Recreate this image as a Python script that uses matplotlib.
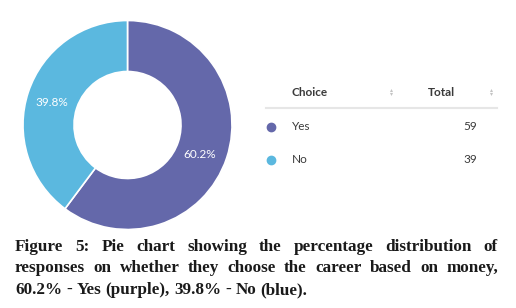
import matplotlib.pyplot as plt
from matplotlib.lines import Line2D

# data
choices = ["Yes", "No"]
totals = [59, 39]
pct_labels = ["60.2%", "39.8%"]
colors = ["#6468AA", "#5BB8DF"]
caption_lines = [
    "Figure 5: Pie chart showing the percentage distribution of",
    "responses on whether they choose the career based on money,",
    "60.2% - Yes (purple), 39.8% - No (blue).",
]

W, H = 516, 308
fig = plt.figure(figsize=(W / 100, H / 100), dpi=100)
fig.patch.set_facecolor("white")


def fx(x):
    return x / W


def fy(y):
    return 1 - y / H


# donut
r_out = 104.5
cx, cy = 127.5, 125
ax = fig.add_axes([fx(cx - r_out), fy(cy + r_out), 2 * r_out / W, 2 * r_out / H])
ax.pie(totals, colors=colors, startangle=90, counterclock=False, radius=1.0,
       wedgeprops=dict(width=1 - 53.5 / r_out, edgecolor="white", linewidth=1.2))
ax.set_aspect("equal")
ax.set_xlim(-1, 1)
ax.set_ylim(-1, 1)

# percentage labels
lab_pos = [(200, 154), (52, 103)]
for (x, y), t in zip(lab_pos, pct_labels):
    fig.text(fx(x), fy(y), t, ha="center", va="center", color="white",
             fontsize=8.5, family="Lato")

# table
tc = "#3a3a3a"
fig.text(fx(292), fy(92), "Choice", ha="left", va="center", fontsize=8.5,
         family="Lato", weight="bold", color=tc)
fig.text(fx(428), fy(92), "Total", ha="left", va="center", fontsize=8.5,
         family="Lato", weight="bold", color=tc)
for x in (391, 491):
    fig.add_artist(Line2D([fx(x)], [fy(89.5)], marker="^", ms=2.2, color="#c4c4c4",
                          lw=0, markeredgewidth=0))
    fig.add_artist(Line2D([fx(x)], [fy(94)], marker="v", ms=2.2, color="#c4c4c4",
                          lw=0, markeredgewidth=0))
fig.add_artist(Line2D([fx(266), fx(497)], [fy(108), fy(108)], color="#e6e6e6", lw=1.5))
rows_y = [127, 160]
for name, tot, col, y in zip(choices, totals, colors, rows_y):
    fig.add_artist(Line2D([fx(271)], [fy(y)], marker="o", ms=6, color=col, lw=0))
    fig.text(fx(292), fy(y), name, ha="left", va="center", fontsize=8.5,
             family="Lato", color=tc)
    fig.text(fx(477), fy(y), str(tot), ha="right", va="center", fontsize=8.5,
             family="Lato", color=tc)

# caption, justified for the first two lines
fig.canvas.draw()
renderer = fig.canvas.get_renderer()
left, right = 15, 498
cap_y = [247, 268, 290]
kw = dict(fontsize=12.3, family="Liberation Serif", weight="bold", color="#1a1a1a",
          va="center", ha="left")
space = fig.text(0, 0, " ", **kw)
space_w = space.get_window_extent(renderer).width
space.remove()
for i, (line, y) in enumerate(zip(caption_lines, cap_y)):
    words = line.split(" ")
    texts = [fig.text(0, fy(y), w, **kw) for w in words]
    widths = [t.get_window_extent(renderer).width for t in texts]
    if i < len(caption_lines) - 1:
        gap = (right - left - sum(widths)) / (len(words) - 1)
    else:
        gap = space_w
    x = left
    for t, w in zip(texts, widths):
        t.set_x(fx(x))
        x += w + gap

fig.savefig("out.png", dpi=100, facecolor="white")
